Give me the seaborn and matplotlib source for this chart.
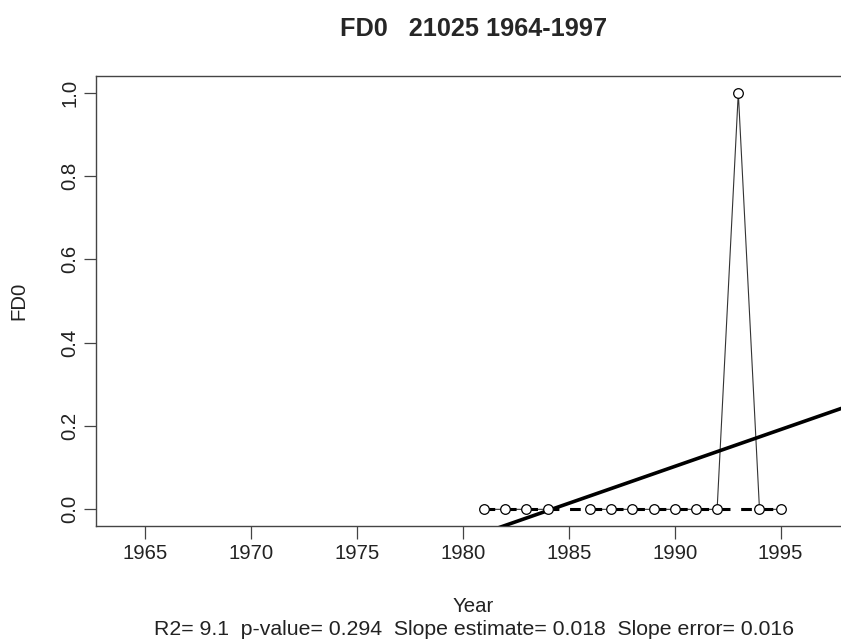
import numpy as np
import pandas as pd
import matplotlib
matplotlib.use("Agg")
import matplotlib.pyplot as plt
import seaborn as sns

# Datos
years = [1981, 1982, 1983, 1984, 1985, 1986, 1987, 1988, 1989, 1990,
         1991, 1992, 1993, 1994, 1995]
fd0 = [0, 0, 0, 0, np.nan, 0, 0, 0, 0, 0, 0, 0, 1, 0, 0]
smooth = [0, 0, 0, 0, 0, 0, 0, 0, 0, 0, 0, 0, 0, 0, 0]
x_ticks = [1965, 1970, 1975, 1980, 1985, 1990, 1995]
y_ticks = [0.0, 0.2, 0.4, 0.6, 0.8, 1.0]
title = "FD0   21025 1964-1997"
subtitle = "R2= 9.1  p-value= 0.294  Slope estimate= 0.018  Slope error= 0.016"

df = pd.DataFrame({"Year": years, "FD0": fd0, "smooth": smooth})
xlim = (1962.68, 1998.32)
ylim = (-0.04, 1.04)

sns.set_theme(style="white")
plt.rcParams["font.family"] = ["Liberation Sans", "DejaVu Sans"]

fig = plt.figure(figsize=(8.41, 6.40), dpi=100)
ax = fig.add_axes([96 / 841, 1 - 526 / 640, 755 / 841, 450 / 640])
ax.set_xlim(*xlim)
ax.set_ylim(*ylim)

# Serie con huecos (type="b")
ax.plot(df["Year"], df["FD0"], color="#333333", lw=0.8, zorder=2)

# Suavizado (linea discontinua)
sns.lineplot(data=df, x="Year", y="smooth", ax=ax, color="black", lw=2.2,
             linestyle=(0, (3.5, 3.5)), zorder=3)

# Regresion lineal sobre todo el eje
sns.regplot(data=df, x="Year", y="FD0", ax=ax, scatter=False, ci=None,
            truncate=False, line_kws={"color": "black", "lw": 2.6, "zorder": 4})

sns.scatterplot(data=df, x="Year", y="FD0", ax=ax, marker="o", s=48,
                facecolor="white", edgecolor="black", linewidth=0.9, zorder=5)

ax.set_xlim(*xlim)
ax.set_ylim(*ylim)
ax.set_xticks(x_ticks)
ax.set_yticks(y_ticks)
ax.set_yticklabels([f"{v:.1f}" for v in y_ticks], rotation=90, va="center")
ax.tick_params(axis="both", direction="out", length=9, width=0.9,
               color="#444444", labelsize=14.7, labelcolor="#222222",
               bottom=True, left=True)
ax.tick_params(axis="x", pad=4)
ax.tick_params(axis="y", pad=3)
for s in ax.spines.values():
    s.set_color("#444444")
    s.set_linewidth(1.0)

ax.set_xlabel("Year", fontsize=14.7, color="#222222")
ax.xaxis.set_label_coords(0.5, -0.191)
ax.xaxis.label.set_verticalalignment("baseline")
ax.set_ylabel("FD0", fontsize=14.7, color="#222222")
ax.yaxis.set_label_coords(-0.1026, 0.5)
ax.yaxis.label.set_verticalalignment("center")
ax.set_title(title, fontsize=18.2, fontweight="bold", pad=29)
ax.text(0.5, -0.2422, subtitle, transform=ax.transAxes, ha="center",
        va="baseline", fontsize=15.3, color="#222222")

plt.savefig("out.png", dpi=100)
